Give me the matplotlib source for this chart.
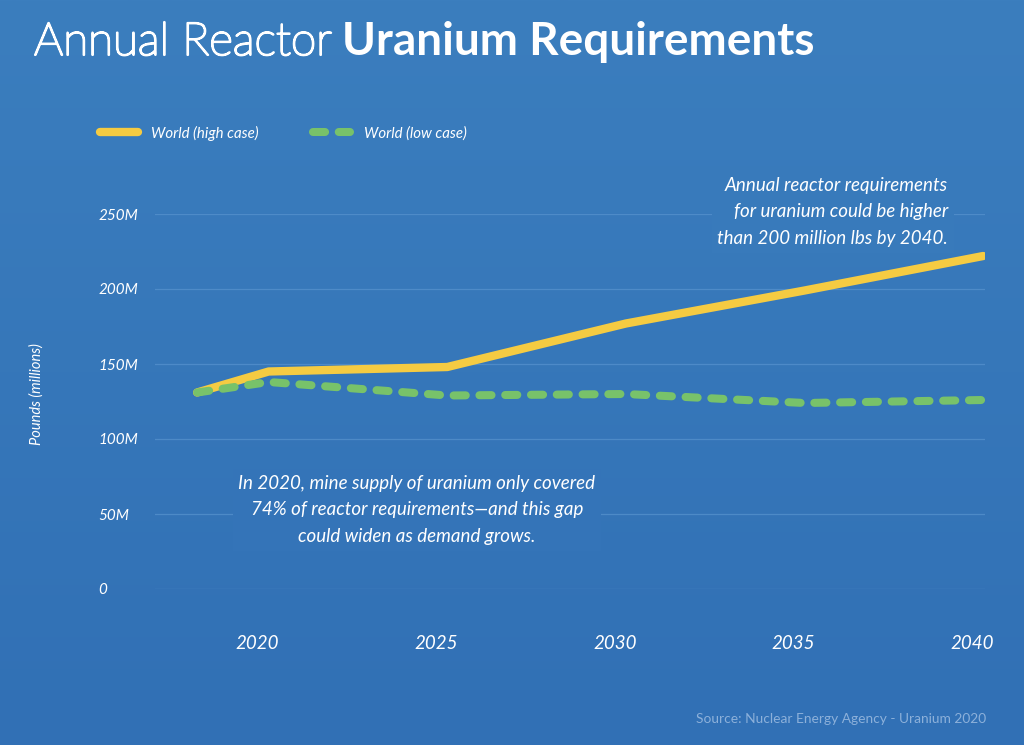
import numpy as np
import matplotlib.pyplot as plt
import matplotlib.patheffects as pe
from matplotlib.transforms import ScaledTranslation

years = [2018, 2020, 2025, 2030, 2035, 2040]
high_case = [131, 145, 148, 177, 199, 222]
low_case = [131, 138, 129, 130, 124, 126]
ytick_vals = [0, 50, 100, 150, 200, 250]
ytick_labels = ['0', '50M', '100M', '150M', '200M', '250M']
xtick_vals = [2020, 2025, 2030, 2035, 2040]

W, H = 1024, 745
fig = plt.figure(figsize=(W / 100, H / 100), dpi=100)

# background gradient
bg = fig.add_axes([0, 0, 1, 1], zorder=-10)
grad = np.linspace(0, 1, 256).reshape(-1, 1)
top = np.array([0x3b, 0x7e, 0xbe]) / 255
bot = np.array([0x31, 0x70, 0xb5]) / 255
img = top + (bot - top) * grad[..., None]
bg.imshow(img, aspect='auto', extent=[0, 1, 0, 1])
bg.axis('off')

def fx(px):
    return px / W

def fy(py):
    return 1 - py / H

def bgcol(py):
    t = py / H
    return tuple(top + (bot - top) * t)

ax = fig.add_axes([fx(155), fy(589), fx(985) - fx(155), fy(214) - fy(589)])
ax.patch.set_alpha(0)
for s in ax.spines.values():
    s.set_visible(False)

ax.plot(years, high_case, color='#f5cb42', lw=6, solid_capstyle='round',
        solid_joinstyle='round', label='World (high case)', zorder=3)
ax.plot(years, low_case, color='#78c26a', lw=5.8, linestyle=(0, (1.5, 1.7)),
        dash_capstyle='round', dash_joinstyle='round', label='World (low case)', zorder=4)

ax.set_xlim(2016.82, 2040.05)
ax.set_ylim(0, 250)
ax.set_yticks(ytick_vals)
ax.set_yticklabels(ytick_labels, ha='left')
ax.set_xticks(xtick_vals)
ax.set_xticklabels([str(x) for x in xtick_vals])
ax.tick_params(axis='y', length=0, pad=41, labelcolor='white', labelsize=11)
ax.tick_params(axis='x', length=0, pad=33, labelcolor='white', labelsize=13.5)
shift = ScaledTranslation(-11 / 100, 0, fig.dpi_scale_trans)
for lab in ax.get_xticklabels():
    lab.set_transform(lab.get_transform() + shift)
for lab in ax.get_xticklabels() + ax.get_yticklabels():
    lab.set_fontfamily('Lato')
    lab.set_fontstyle('italic')
ax.grid(axis='y', color='#5490cc', lw=0.9, alpha=0.8)
ax.grid(axis='x', visible=False)
ax.set_axisbelow(True)

fig.text(fx(37), fy(394), 'Pounds (millions)', rotation=90, color='white',
         fontsize=10.5, family='Lato', style='italic', ha='center', va='center')

# title
fig.text(fx(34), fy(55), 'Annual Reactor', color='white', fontsize=33,
         family='Lato', weight='light', ha='left', va='baseline',
         path_effects=[pe.withStroke(linewidth=1.5, foreground='white')])
fig.text(fx(342), fy(55), 'Uranium Requirements', color='white', fontsize=33,
         family='Lato', weight='bold', ha='left', va='baseline')

leg = fig.legend(loc='center left', bbox_to_anchor=(fx(100), fy(133)), ncol=2,
                 frameon=False, fontsize=10.8, handlelength=2.5, handletextpad=0.9,
                 columnspacing=3.6, borderpad=0, borderaxespad=0)
for t in leg.get_texts():
    t.set_color('white')
    t.set_fontfamily('Lato')
    t.set_fontstyle('italic')

box = dict(boxstyle='square,pad=0.3', facecolor=bgcol(212), edgecolor='none')
fig.text(fx(948), fy(212),
         'Annual reactor requirements\nfor uranium could be higher\nthan 200 million lbs by 2040.',
         color='white', fontsize=13.5, family='Lato', style='italic',
         ha='right', va='center', multialignment='right', linespacing=1.68, bbox=box)
box2 = dict(boxstyle='square,pad=0.3', facecolor=bgcol(510), edgecolor='none')
fig.text(fx(417), fy(510),
         'In 2020, mine supply of uranium only covered\n74% of reactor requirements\u2014and this gap\ncould widen as demand grows.',
         color='white', fontsize=13.5, family='Lato', style='italic',
         ha='center', va='center', multialignment='center', linespacing=1.68, bbox=box2)

fig.text(fx(986), fy(719), 'Source: Nuclear Energy Agency - Uranium 2020',
         color='#8cb0da', fontsize=9.9, family='Lato', ha='right', va='center')

fig.savefig('out.png', dpi=100)
